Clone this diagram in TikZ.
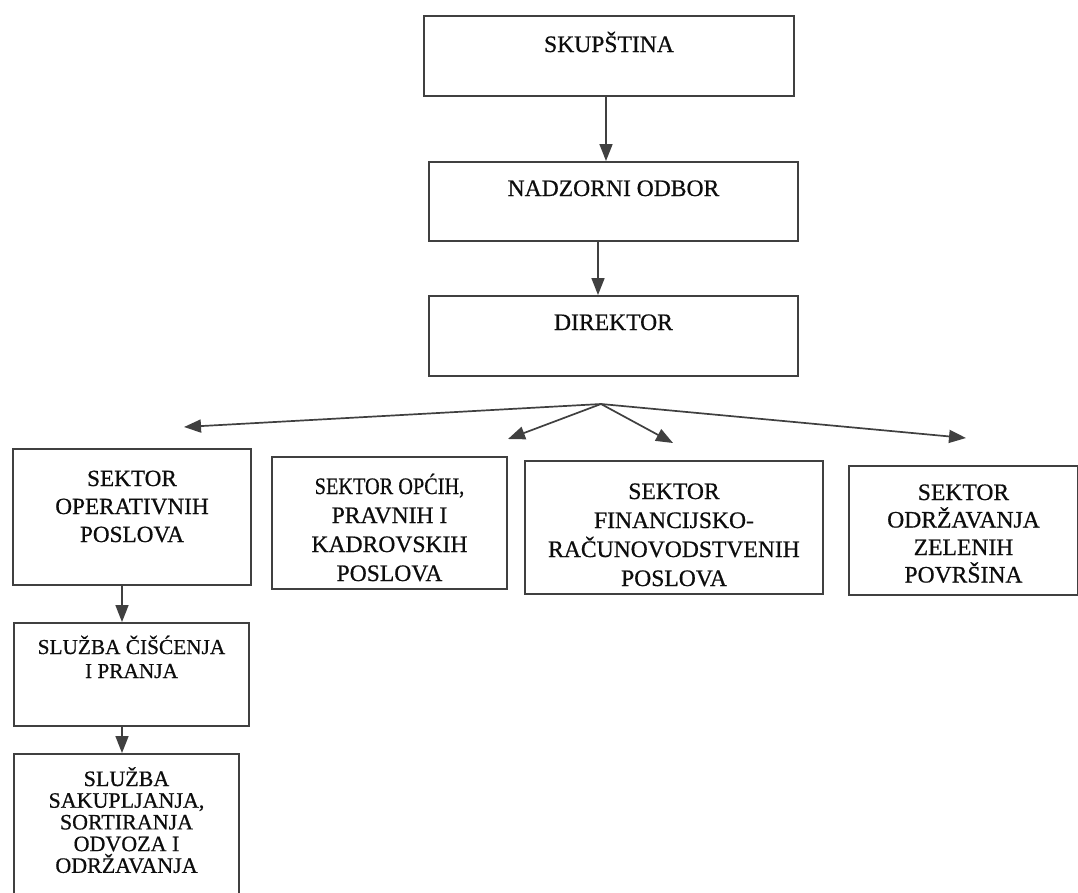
\documentclass[tikz,border=0pt]{standalone}
\usepackage{fontspec}
\setmainfont{Liberation Serif}[FakeBold=0.6]
\usetikzlibrary{arrows.meta}
\newcommand\bxt[6]{\parbox[c][#2][t]{#1}{\fontsize{#4}{#5}\selectfont\centering\rule{0pt}{#3}#6}}
\begin{document}
\begin{tikzpicture}[x=1pt,y=1pt,
  bx/.style={draw=black!75, line width=2pt, inner sep=0pt, anchor=north west, text=black!95},
  arr/.style={draw=black!75, line width=1.7pt, -{Triangle[length=17pt,width=13pt]}}]
\useasboundingbox[fill=white] (0,0) rectangle (1078,-892);

% top chain
\node[bx] (skup) at (423,-15) {\bxt{370pt}{80pt}{36pt}{23.6}{28}{SKUPŠTINA}};
\node[bx] (nadz) at (428,-161) {\bxt{369pt}{79pt}{34pt}{23.6}{28}{NADZORNI ODBOR}};
\node[bx] (dir) at (428,-295) {\bxt{369pt}{80pt}{34pt}{23.6}{28}{DIREKTOR}};

% sectors
\node[bx] (sop) at (12,-448) {\bxt{238pt}{136pt}{37pt}{23.2}{28}{SEKTOR\\OPERATIVNIH\\POSLOVA}};
\node[bx] (sopc) at (271,-456) {\bxt{235pt}{132pt}{37pt}{23.6}{29}{\scalebox{0.86}[1]{SEKTOR OPĆIH,}\\PRAVNIH I\\KADROVSKIH\\POSLOVA}};
\node[bx] (sfin) at (524,-460) {\bxt{298pt}{133pt}{38pt}{23.6}{29}{SEKTOR\\FINANCIJSKO-\\RAČUNOVODSTVENIH\\POSLOVA}};
\node[bx] (szel) at (848,-465) {\bxt{229pt}{129pt}{34pt}{23.6}{27.5}{SEKTOR\\ODRŽAVANJA\\ZELENIH\\POVRŠINA}};

% services
\node[bx] (sl1) at (13,-622) {\bxt{235pt}{103pt}{31pt}{21.3}{24}{SLUŽBA ČIŠĆENJA\\I PRANJA}};
\node[bx] (sl2) at (13,-753) {\bxt{225pt}{150pt}{32pt}{22}{21.7}{SLUŽBA\\SAKUPLJANJA,\\SORTIRANJA\\ODVOZA I\\ODRŽAVANJA}};

% vertical connectors
\coordinate (v1) at (606,0);
\coordinate (v2) at (598,0);
\coordinate (v3) at (122,0);
\draw[arr] (v1 |- skup.south) -- (v1 |- nadz.north);
\draw[arr] (v2 |- nadz.south) -- (v2 |- dir.north);
\draw[arr] (v3 |- sop.south) -- (v3 |- sl1.north);
\draw[arr] (v3 |- sl1.south) -- (v3 |- sl2.north);

% branch
\coordinate (br) at (601,-404);
\coordinate (t1) at (184,-427);
\coordinate (t2) at (508,-439);
\coordinate (t3) at (673,-443);
\coordinate (t4) at (966,-438);
\draw[arr] (br) -- (t1);
\draw[arr] (br) -- (t2);
\draw[arr] (br) -- (t3);
\draw[arr] (br) -- (t4);
\end{tikzpicture}
\end{document}
